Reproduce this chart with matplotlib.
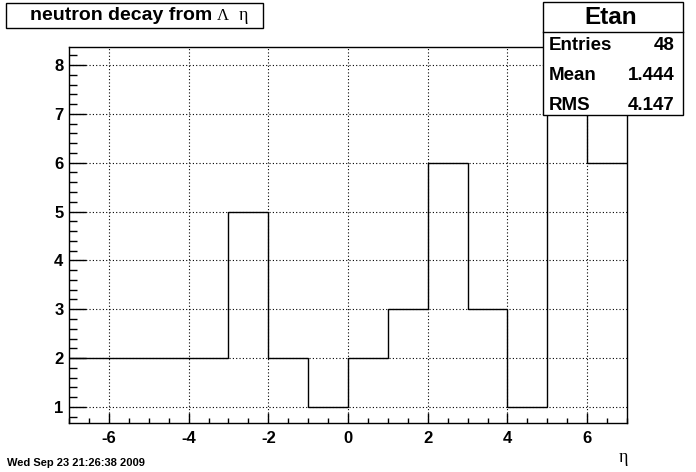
import matplotlib
matplotlib.use("Agg")
import matplotlib.pyplot as plt
from matplotlib.patches import Rectangle
from matplotlib.ticker import MultipleLocator

# histogram data (eta of neutron), 14 bins from -7 to 7
bin_edges = [-7, -6, -5, -4, -3, -2, -1, 0, 1, 2, 3, 4, 5, 6, 7]
counts = [2, 2, 2, 2, 5, 2, 1, 2, 3, 6, 3, 1, 11, 6]
x_ticks = [-6, -4, -2, 0, 2, 4, 6]
y_ticks = [1, 2, 3, 4, 5, 6, 7, 8]
stats_names = ["Entries", "Mean", "RMS"]
stats_values = ["48", "1.444", "4.147"]

W, H = 696, 472
plt.rcParams['font.family'] = ['Liberation Sans', 'DejaVu Sans']
plt.rcParams['axes.unicode_minus'] = False
fig = plt.figure(figsize=(W / 100, H / 100), dpi=100)
fig.patch.set_facecolor('white')


def fx(px):
    return px / W


def fy(py):
    return 1 - py / H


# frame in pixels: left 69, right 627, top 47, bottom 423
ax = fig.add_axes([fx(69), fy(423), fx(627) - fx(69), fy(47) - fy(423)])
ax.stairs(counts, bin_edges, baseline=None, color='black', lw=1.0)
ax.set_xlim(-7, 7)
ax.set_ylim(0.67, 8.37)

ax.set_xticks(x_ticks)
ax.set_yticks(y_ticks)
ax.xaxis.set_minor_locator(MultipleLocator(0.5))
ax.yaxis.set_minor_locator(MultipleLocator(0.2))
ax.tick_params(axis='both', which='both', direction='in', top=False, right=False,
               width=1.0, colors='black')
ax.tick_params(axis='y', which='major', length=12, labelsize=12, pad=4)
ax.tick_params(axis='y', which='minor', length=6)
ax.tick_params(axis='x', which='major', length=7, labelsize=12, pad=6)
ax.tick_params(axis='x', which='minor', length=3.5)
for lab in ax.get_xticklabels() + ax.get_yticklabels():
    lab.set_fontweight('bold')
ax.grid(True, which='major', color='black', lw=0.8, linestyle=(0, (1, 2)))
for sp in ax.spines.values():
    sp.set_linewidth(1.0)

# title box
fig.patches.append(Rectangle((fx(6), fy(28)), fx(263) - fx(6), fy(3) - fy(28),
                             transform=fig.transFigure, facecolor='white',
                             edgecolor='black', lw=1.0, zorder=5))
fig.text(fx(30), fy(20.5), "neutron decay from", fontsize=14, fontweight='bold',
         ha='left', va='baseline', zorder=6)
fig.text(fx(217), fy(20.5), "\u039b", fontsize=12, family='Liberation Serif',
         ha='left', va='baseline', zorder=6)
fig.text(fx(239), fy(20.5), "\u03b7", fontsize=13, family='Liberation Serif',
         ha='left', va='baseline', zorder=6)

# stats box
fig.patches.append(Rectangle((fx(543), fy(115)), fx(683) - fx(543), fy(2) - fy(115),
                             transform=fig.transFigure, facecolor='white',
                             edgecolor='black', lw=1.0, zorder=5))
fig.add_artist(plt.Line2D([fx(543), fx(683)], [fy(32), fy(32)],
                          transform=fig.transFigure, color='black', lw=1.0, zorder=6))
fig.text(fx(611), fy(18), "Etan", fontsize=17.5, fontweight='bold',
         ha='center', va='center', zorder=6)
for i, (name, val) in enumerate(zip(stats_names, stats_values)):
    yy = fy(45 + i * 30)
    fig.text(fx(549), yy, name, fontsize=13.5, fontweight='bold',
             ha='left', va='center', zorder=6)
    fig.text(fx(675), yy, val, fontsize=13.5, fontweight='bold',
             ha='right', va='center', zorder=6)

# axis title and date stamp
fig.text(fx(623), fy(458), "\u03b7", fontsize=13, family='Liberation Serif',
         ha='center', va='center')
fig.text(fx(7), fy(463.5), "Wed Sep 23 21:26:38 2009", fontsize=8,
         fontweight='bold', ha='left', va='center')

fig.savefig("out.png", dpi=100)
